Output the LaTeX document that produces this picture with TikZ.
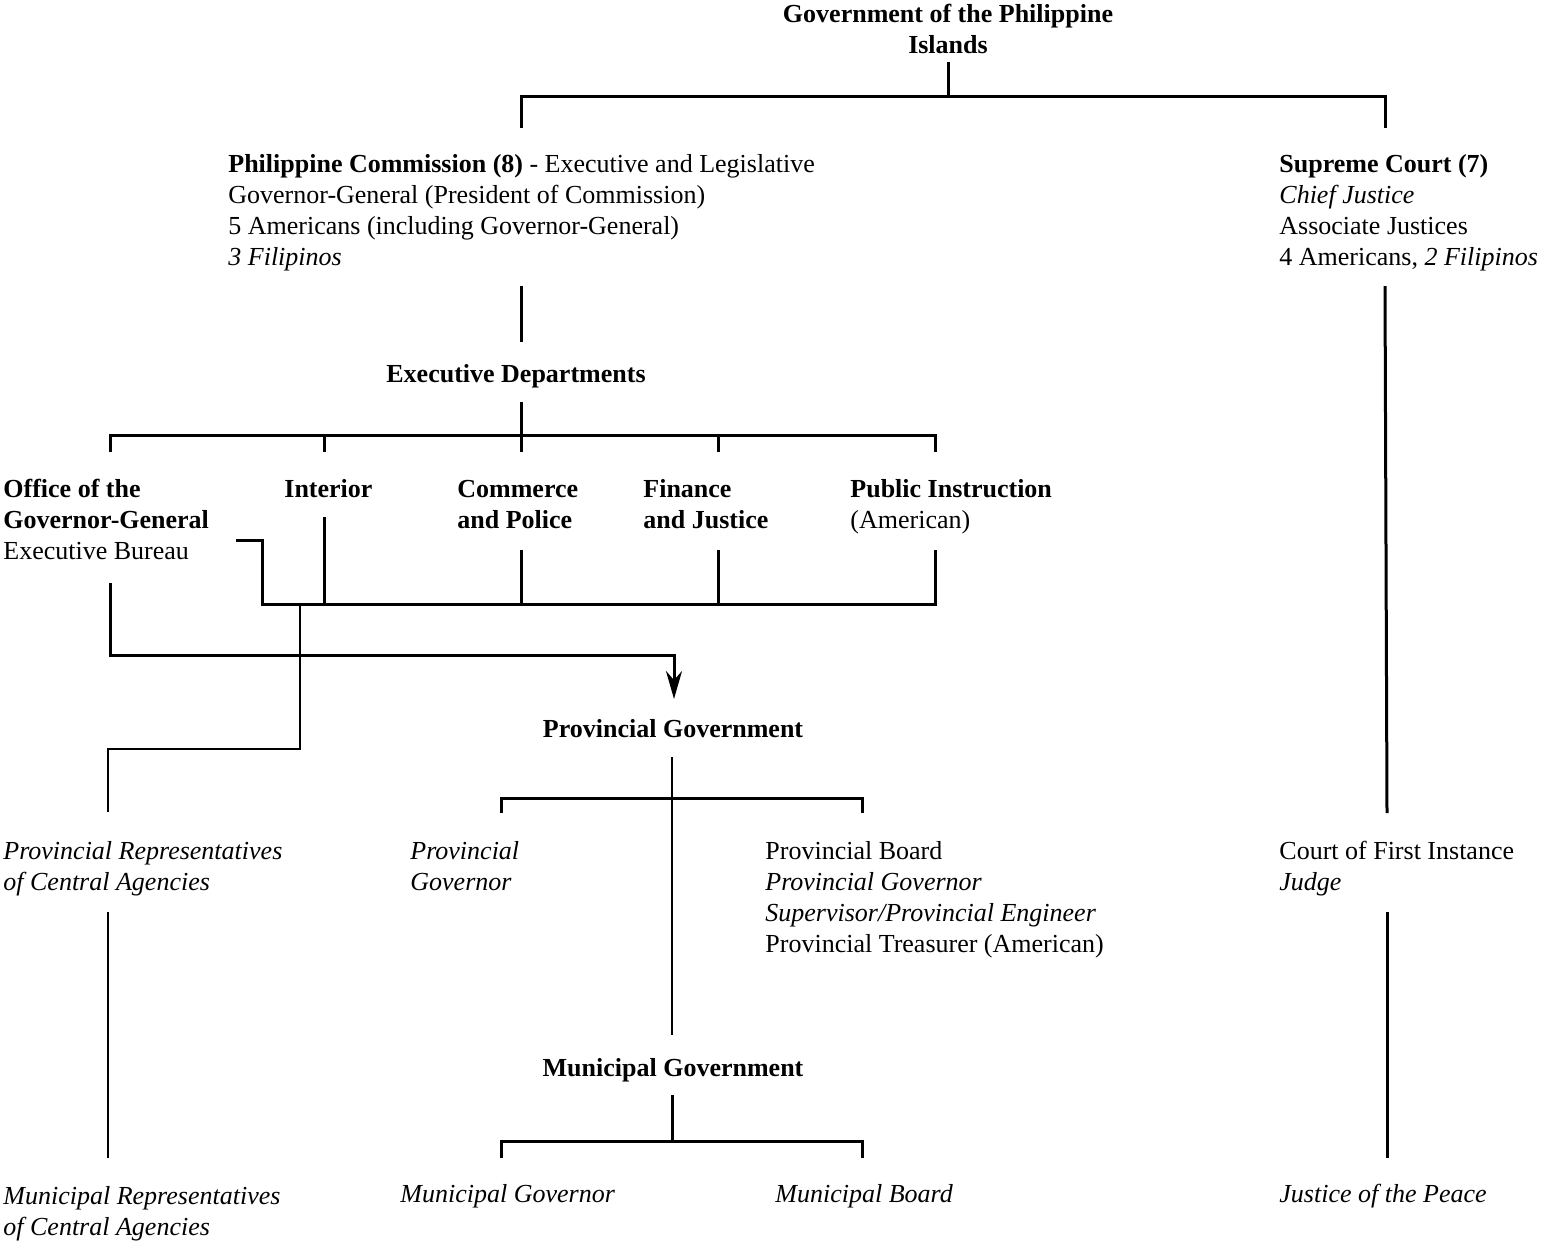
\documentclass[tikz,border=0pt]{standalone}
\usepackage{fontspec}
\setmainfont{Liberation Serif}
\usetikzlibrary{arrows.meta}
\begin{document}
\begin{tikzpicture}[x=0.5pt,y=-0.5pt,
 lbl/.style={anchor=base west, inner sep=0pt, align=left, font=\fontsize{13}{15.5}\selectfont},
 blbl/.style={lbl, font=\fontsize{13}{15.5}\selectfont\bfseries},
 ilbl/.style={lbl, font=\fontsize{13}{15.5}\selectfont\itshape},
 clbl/.style={anchor=base, inner sep=0pt, align=center, font=\fontsize{13}{15.5}\selectfont\bfseries},
 conn/.style={line width=1.5pt},
 thinconn/.style={line width=1.1pt}]
\useasboundingbox (0,0) rectangle (1541,1250);
% texts (anchor = baseline of the last line)
\node[clbl] (gov) at (948,53) {Government of the Philippine\\Islands};
\node[lbl] (comm) at (228,265) {\textbf{Philippine Commission (8)} - Executive and Legislative\\Governor-General (President of Commission)\\5 Americans (including Governor-General)\\\textit{3 Filipinos}};
\node[lbl] (sc) at (1279,265) {\textbf{Supreme Court (7)}\\\textit{Chief Justice}\\Associate Justices\\4 Americans, \textit{2 Filipinos}};
\node[clbl] (ed) at (516,382) {Executive Departments};
\node[lbl] (ogg) at (3,559) {\textbf{Office of the}\\\textbf{Governor-General}\\Executive Bureau};
\node[blbl] (int) at (284,497) {Interior};
\node[blbl] (cp) at (457,528) {Commerce\\and Police};
\node[blbl] (fj) at (643,528) {Finance\\and Justice};
\node[lbl] (pi) at (850,528) {\textbf{Public Instruction}\\(American)};
\node[clbl] (pg) at (673,737) {Provincial Government};
\node[ilbl] (prc) at (3,890) {Provincial Representatives\\of Central Agencies};
\node[ilbl] (pgov) at (410,890) {Provincial\\Governor};
\node[lbl] (pb) at (765,952) {Provincial Board\\\textit{Provincial Governor}\\\textit{Supervisor/Provincial Engineer}\\Provincial Treasurer (American)};
\node[lbl] (cfi) at (1279,890) {Court of First Instance\\\textit{Judge}};
\node[clbl] (mg) at (673,1076) {Municipal Government};
\node[ilbl] (mrc) at (3,1235) {Municipal Representatives\\of Central Agencies};
\node[ilbl] (mgov) at (400,1202) {Municipal Governor};
\node[ilbl] (mb) at (775,1202) {Municipal Board};
\node[ilbl] (jp) at (1279,1202) {Justice of the Peace};
% junction coordinates
\coordinate (topj) at (948,96);
\coordinate (edj) at (521,435);
\coordinate (lowj) at (521,604);
\coordinate (pgj) at (672,798);
\coordinate (mgj) at (672,1141);
% connectors
\draw[conn] (948,62) -- (topj);
\draw[conn] (521,128) -- (521,96) -- (1385,96) -- (1385,128);
\draw[conn] (521,286) -- (521,342);
\draw[conn] (521,402) -- (edj);
\draw[conn] (110,452) -- (110,435) -- (935,435) -- (935,452);
\foreach \x in {324,521,718} \draw[conn] (\x,435) -- (\x,452);
\draw[conn] (324,517) -- (324,604);
\draw[conn] (521,550) -- (lowj);
\draw[conn] (718,550) -- (718,604);
\draw[conn] (935,550) -- (935,604) -- (262,604) -- (262,540) -- (236,540);
\draw[thinconn] (300,604) -- (300,749) -- (108,749) -- (108,812);
\draw[conn,-{Stealth[length=14pt,width=8pt]}] (110,583) -- (110,655) -- (674,655) -- (674,699);
\draw[thinconn] (672,757) -- (672,1035);
\draw[conn] (501,813) -- (501,798) -- (862,798) -- (862,813);
\draw[thinconn] (108,912) -- (108,1158);
\draw[conn] (1385,286) -- (1387,813);
\draw[conn] (1387,912) -- (1387,1158);
\draw[conn] (672,1095) -- (mgj);
\draw[conn] (501,1158) -- (501,1141) -- (862,1141) -- (862,1158);
\end{tikzpicture}
\end{document}
